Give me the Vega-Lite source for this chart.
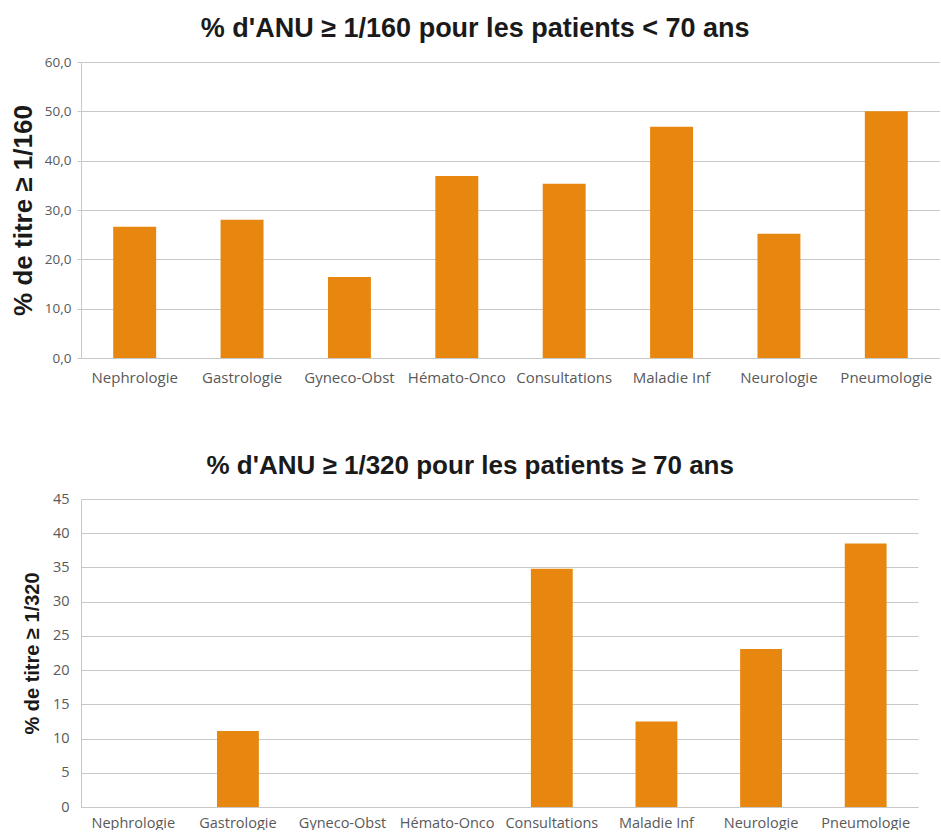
{
  "$schema": "https://vega.github.io/schema/vega-lite/v6.json",
  "padding": {"left": 10, "top": 15, "right": 0, "bottom": 0},
  "background": "white",
  "bounds": "flush",
  "spacing": 141,
  "config": {
    "view": {"stroke": null},
    "font": "Open Sans",
    "title": {"font": "Liberation Sans", "fontSize": 27, "fontWeight": "bold", "color": "#1a1a1a", "offset": 12, "anchor": "middle", "frame": "bounds"},
    "axis": {"labelFont": "Open Sans", "labelFontSize": 13.5, "labelColor": "#595959", "titleFont": "Liberation Sans", "titleFontSize": 21, "titleFontWeight": "bold", "titleColor": "#1a1a1a", "domainColor": "#c8c8c8", "gridColor": "#c8c8c8", "tickColor": "#c8c8c8"}
  },
  "datasets": {
    "young": [
      {"service": "Nephrologie", "pct": 26.6},
      {"service": "Gastrologie", "pct": 28.0},
      {"service": "Gyneco-Obst", "pct": 16.4},
      {"service": "Hémato-Onco", "pct": 36.9},
      {"service": "Consultations", "pct": 35.3},
      {"service": "Maladie Inf", "pct": 46.9},
      {"service": "Neurologie", "pct": 25.2},
      {"service": "Pneumologie", "pct": 50.0}
    ],
    "old": [
      {"service": "Nephrologie", "pct": 0},
      {"service": "Gastrologie", "pct": 11.1},
      {"service": "Gyneco-Obst", "pct": 0},
      {"service": "Hémato-Onco", "pct": 0},
      {"service": "Consultations", "pct": 34.8},
      {"service": "Maladie Inf", "pct": 12.5},
      {"service": "Neurologie", "pct": 23.1},
      {"service": "Pneumologie", "pct": 38.5}
    ]
  },
  "vconcat": [
    {
      "title": {"text": "% d'ANU ≥ 1/160 pour les patients < 70 ans", "fontSize": 27},
      "data": {"name": "young"},
      "width": 859,
      "height": 296,
      "mark": {"type": "bar", "color": "#E8870F"},
      "encoding": {
        "x": {"field": "service", "type": "nominal", "sort": null, "scale": {"paddingInner": 0.6, "paddingOuter": 0.3},
          "axis": {"title": null, "labelAngle": 0, "ticks": false, "labelPadding": 12, "labelFontSize": 15, "grid": false}},
        "y": {"field": "pct", "type": "quantitative", "scale": {"domain": [0, 60]},
          "axis": {"title": "% de titre ≥ 1/160", "titleFontSize": 26, "values": [0, 10, 20, 30, 40, 50, 60], "format": ".1f", "labelExpr": "replace(datum.label, '.', ',')", "tickSize": 4, "labelPadding": 6, "titlePadding": 8}}
      }
    },
    {
      "title": {"text": "% d'ANU ≥ 1/320 pour les patients ≥ 70 ans", "fontSize": 26},
      "data": {"name": "old"},
      "width": 837,
      "height": 308,
      "mark": {"type": "bar", "color": "#E8870F"},
      "encoding": {
        "x": {"field": "service", "type": "nominal", "sort": null, "scale": {"paddingInner": 0.6, "paddingOuter": 0.3},
          "axis": {"title": null, "labelAngle": 0, "ticks": false, "labelPadding": 9, "labelFontSize": 14.5, "grid": false}},
        "y": {"field": "pct", "type": "quantitative", "scale": {"domain": [0, 45]},
          "axis": {"title": "% de titre ≥ 1/320", "titleFontSize": 20, "labelFontSize": 14.5, "values": [0, 5, 10, 15, 20, 25, 30, 35, 40, 45], "tickSize": 0, "labelPadding": 12, "titlePadding": 10}}
      }
    }
  ]
}
